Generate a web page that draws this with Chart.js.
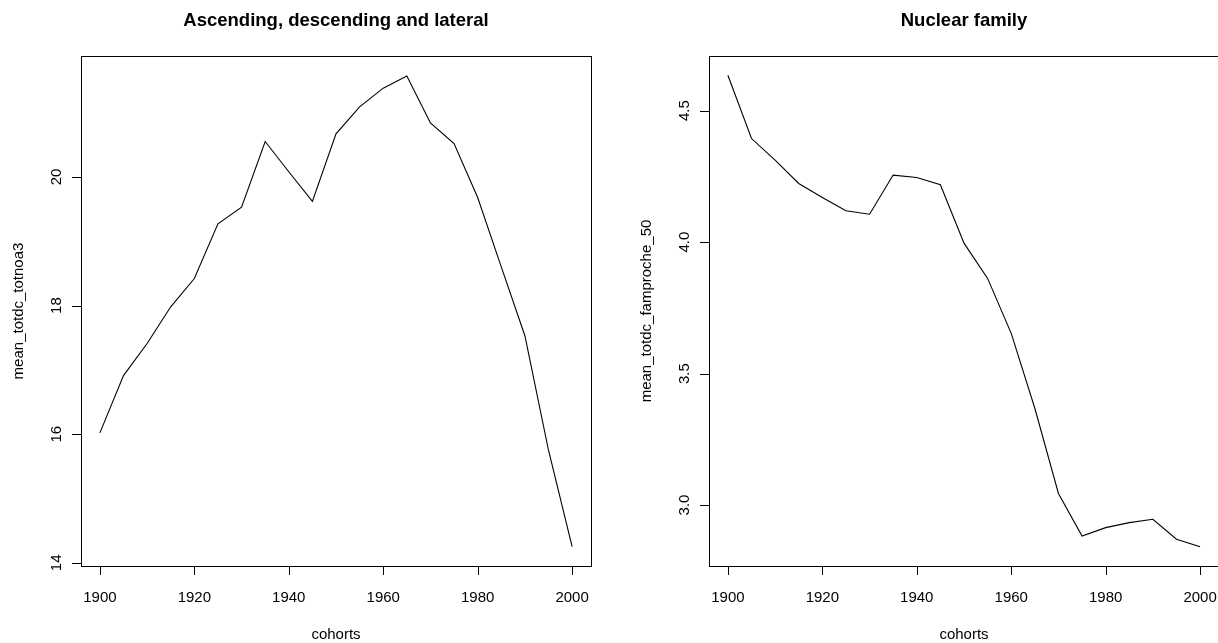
<!DOCTYPE html>
<html>
<head>
<meta charset="utf-8">
<title>Cohorts</title>
<script src="https://cdn.jsdelivr.net/npm/chart.js@4/dist/chart.umd.min.js"></script>
<style>
    html, body { margin: 0; padding: 0; background: #fff; overflow: hidden; }
    #wrap { position: relative; width: 1218px; height: 643px; overflow: hidden; }
    .panel { position: absolute; top: 0; }
</style>
</head>
<body>
<div id="wrap">
    <canvas id="chartLeft" class="panel" style="left:0" width="609" height="643"></canvas>
    <canvas id="chartRight" class="panel" style="left:609px" width="620" height="643"></canvas>
</div>
<script>
// Data
const cohorts = [1900, 1905, 1910, 1915, 1920, 1925, 1930, 1935, 1940, 1945, 1950,
                 1955, 1960, 1965, 1970, 1975, 1980, 1985, 1990, 1995, 2000];
const meanTotnoa3 = [16.02, 16.91, 17.41, 17.98, 18.42, 19.27, 19.53, 20.55, 20.08, 19.62, 20.67,
                     21.09, 21.38, 21.57, 20.84, 20.52, 19.68, 18.6, 17.53, 15.75, 14.25];
const meanFamproche50 = [4.635, 4.394, 4.312, 4.223, 4.170, 4.119, 4.106, 4.255, 4.246, 4.218, 3.996,
                         3.862, 3.653, 3.368, 3.044, 2.882, 2.914, 2.933, 2.946, 2.870, 2.841];

const xTicks = [1900, 1920, 1940, 1960, 1980, 2000];
const leftYTicks = [14, 16, 18, 20];
const leftYLabels = ['14', '16', '18', '20'];
const rightYTicks = [3.0, 3.5, 4.0, 4.5];
const rightYLabels = ['3.0', '3.5', '4.0', '4.5'];

const FONT = "'Liberation Sans', Arial, Helvetica, sans-serif";

/**
 * Base-R style frame: box, outward ticks, rotated y labels, titles
 */
const rFramePlugin = {
    id: 'rFrame',
    afterDraw(chart, args, opts) {
        const ctx = chart.ctx;
        const a = chart.chartArea;
        const xs = chart.scales.x;
        const ys = chart.scales.y;
        const tickLen = 9;

        ctx.save();
        ctx.strokeStyle = '#000';
        ctx.fillStyle = '#000';
        ctx.lineWidth = 1;

        // plot box
        ctx.strokeRect(Math.round(a.left) + 0.5, Math.round(a.top) + 0.5,
            Math.round(a.right - a.left), Math.round(a.bottom - a.top));

        // x ticks and labels
        ctx.font = '15px ' + FONT;
        ctx.textAlign = 'center';
        ctx.textBaseline = 'middle';
        ctx.beginPath();
        xTicks.forEach(function(v) {
            const px = Math.round(xs.getPixelForValue(v)) + 0.5;
            ctx.moveTo(px, a.bottom);
            ctx.lineTo(px, a.bottom + tickLen);
        });
        ctx.stroke();
        xTicks.forEach(function(v) {
            ctx.fillText(String(v), xs.getPixelForValue(v), a.bottom + 32);
        });

        // y ticks and rotated labels
        ctx.beginPath();
        opts.yTicks.forEach(function(v) {
            const py = Math.round(ys.getPixelForValue(v)) + 0.5;
            ctx.moveTo(a.left, py);
            ctx.lineTo(a.left - tickLen, py);
        });
        ctx.stroke();
        opts.yTicks.forEach(function(v, i) {
            ctx.save();
            ctx.translate(a.left - 24, ys.getPixelForValue(v));
            ctx.rotate(-Math.PI / 2);
            ctx.fillText(opts.yLabels[i], 0, 0);
            ctx.restore();
        });

        // axis titles
        ctx.fillText(opts.xTitle, (a.left + a.right) / 2, a.bottom + 69);
        ctx.save();
        ctx.translate(a.left - 62, (a.top + a.bottom) / 2);
        ctx.rotate(-Math.PI / 2);
        ctx.fillText(opts.yTitle, 0, 0);
        ctx.restore();

        // main title
        ctx.font = 'bold 18.5px ' + FONT;
        ctx.fillText(opts.title, (a.left + a.right) / 2, 21);

        ctx.restore();
    }
};

function makePanel(canvasId, values, yMin, yMax, padding, frame) {
    const el = document.getElementById(canvasId);
    if (!el) return;

    new Chart(el, {
        type: 'line',
        data: {
            datasets: [{
                data: cohorts.map(function(c, i) { return { x: c, y: values[i] }; }),
                borderColor: '#000',
                borderWidth: 1.1,
                pointRadius: 0,
                tension: 0,
                fill: false
            }]
        },
        options: {
            responsive: false,
            animation: false,
            layout: { padding: padding },
            scales: {
                x: { type: 'linear', min: 1896, max: 2004, display: false },
                y: { type: 'linear', min: yMin, max: yMax, display: false }
            },
            plugins: {
                legend: { display: false },
                tooltip: { enabled: false },
                rFrame: frame
            }
        },
        plugins: [rFramePlugin]
    });
}

makePanel('chartLeft', meanTotnoa3, 13.95, 21.88,
    { left: 81, right: 18, top: 56, bottom: 77 },
    {
        title: 'Ascending, descending and lateral',
        xTitle: 'cohorts',
        yTitle: 'mean_totdc_totnoa3',
        yTicks: leftYTicks,
        yLabels: leftYLabels
    });

makePanel('chartRight', meanFamproche50, 2.768, 4.708,
    { left: 100, right: 10, top: 56, bottom: 77 },
    {
        title: 'Nuclear family',
        xTitle: 'cohorts',
        yTitle: 'mean_totdc_famproche_50',
        yTicks: rightYTicks,
        yLabels: rightYLabels
    });
</script>
</body>
</html>
